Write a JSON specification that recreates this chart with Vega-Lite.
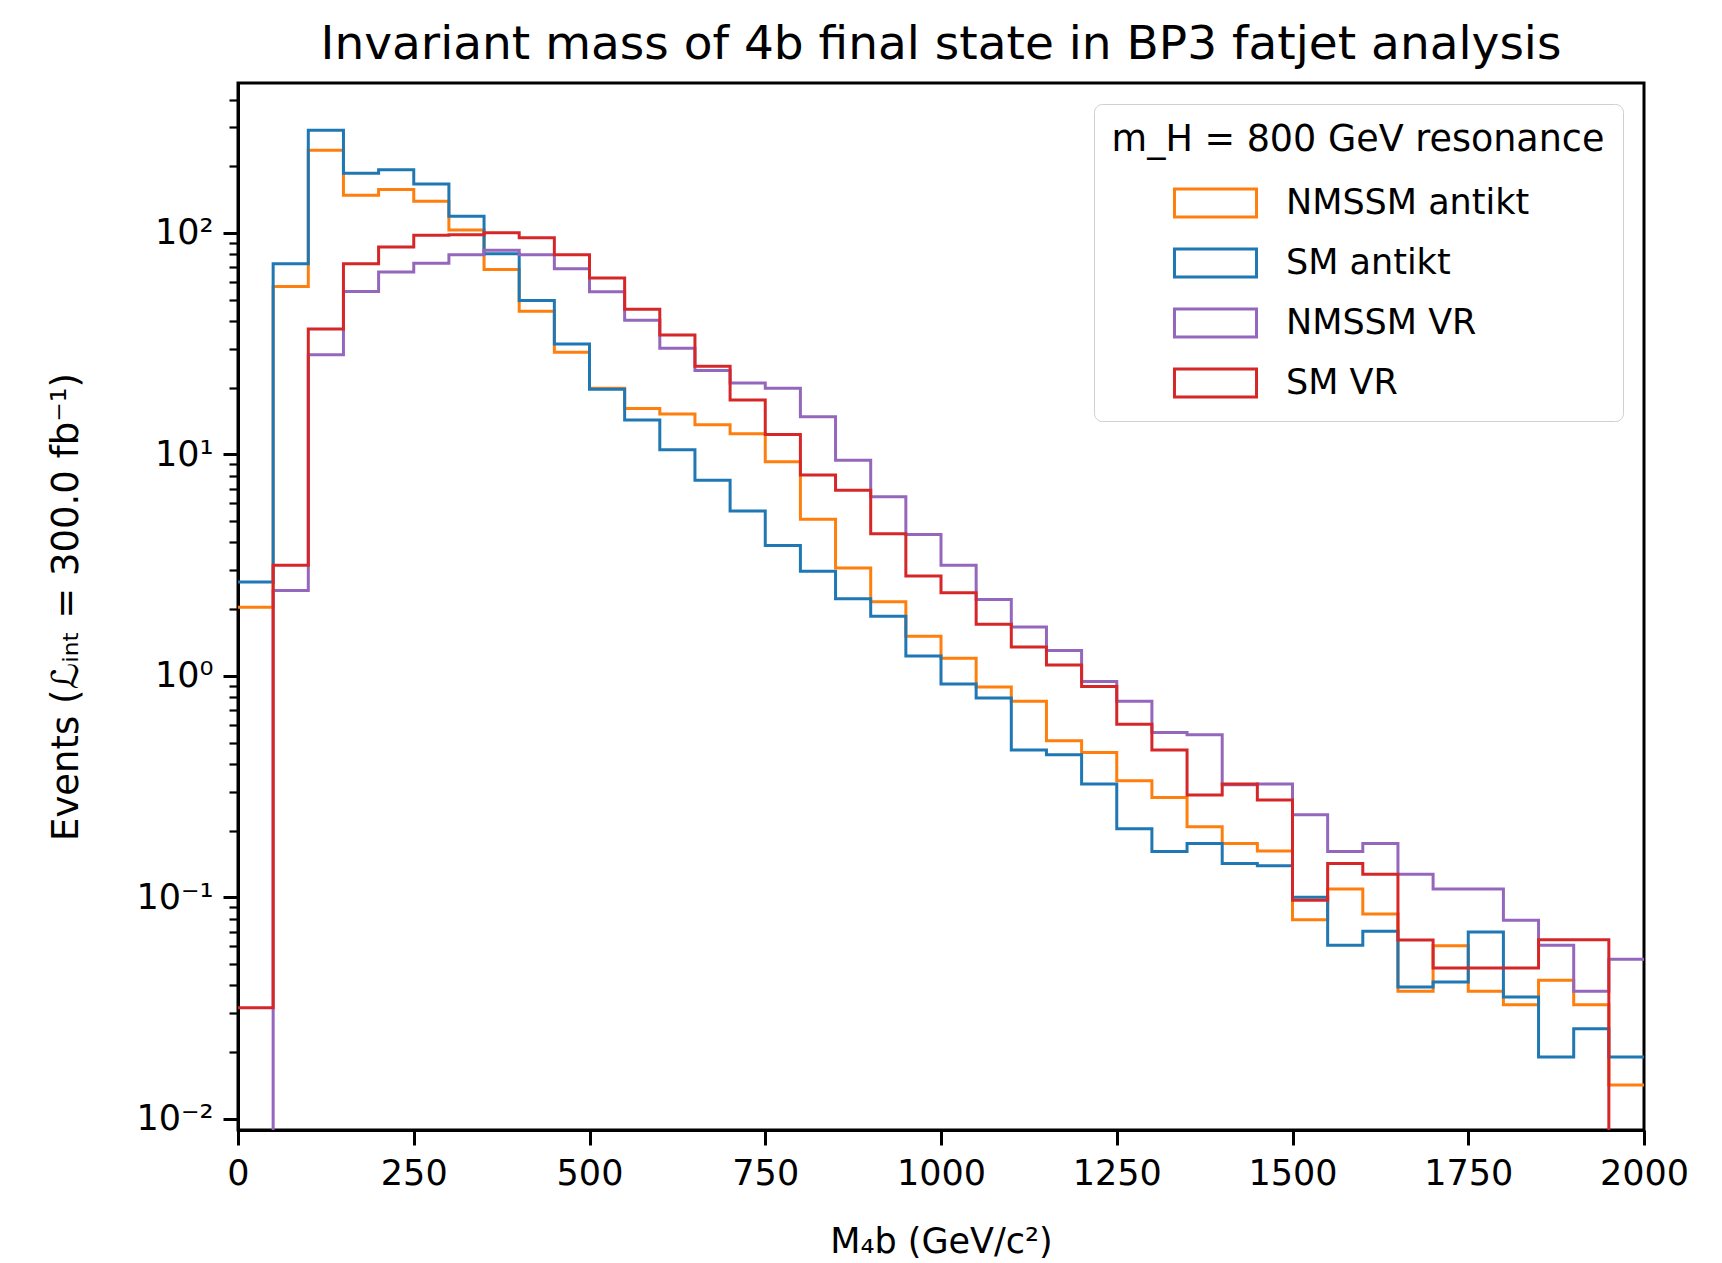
{
  "$schema": "https://vega.github.io/schema/vega-lite/v6.json",
  "width": 1406,
  "height": 1047,
  "autosize": "none",
  "padding": {"left": 238, "top": 83, "right": 78, "bottom": 133},
  "background": "white",
  "config": {
    "font": "DejaVu Sans",
    "view": {"stroke": "black", "strokeWidth": 3},
    "axis": {"domainColor": "black", "domainWidth": 3, "tickColor": "black", "labelColor": "black", "titleColor": "black", "labelFont": "DejaVu Sans", "titleFont": "DejaVu Sans", "labelFontSize": 35, "titleFontSize": 35, "titleFontWeight": "normal", "grid": false}
  },
  "title": {"text": "Invariant mass of 4b final state in BP3 fatjet analysis", "fontSize": 47, "fontWeight": "normal", "font": "DejaVu Sans", "color": "black", "anchor": "middle", "offset": 14},
  "datasets": {
    "hist": [
      {"s":"NMSSM antikt","x0":0,"x1":50,"v":2.04},{"s":"NMSSM antikt","x0":50,"x1":100,"v":57.3},{"s":"NMSSM antikt","x0":100,"x1":150,"v":236},{"s":"NMSSM antikt","x0":150,"x1":200,"v":148},{"s":"NMSSM antikt","x0":200,"x1":250,"v":157},{"s":"NMSSM antikt","x0":250,"x1":300,"v":139},{"s":"NMSSM antikt","x0":300,"x1":350,"v":103},{"s":"NMSSM antikt","x0":350,"x1":400,"v":68.4},{"s":"NMSSM antikt","x0":400,"x1":450,"v":44.3},{"s":"NMSSM antikt","x0":450,"x1":500,"v":28.9},
      {"s":"NMSSM antikt","x0":500,"x1":550,"v":19.9},{"s":"NMSSM antikt","x0":550,"x1":600,"v":16.1},{"s":"NMSSM antikt","x0":600,"x1":650,"v":15.2},{"s":"NMSSM antikt","x0":650,"x1":700,"v":13.6},{"s":"NMSSM antikt","x0":700,"x1":750,"v":12.4},{"s":"NMSSM antikt","x0":750,"x1":800,"v":9.27},{"s":"NMSSM antikt","x0":800,"x1":850,"v":5.09},{"s":"NMSSM antikt","x0":850,"x1":900,"v":3.07},{"s":"NMSSM antikt","x0":900,"x1":950,"v":2.16},{"s":"NMSSM antikt","x0":950,"x1":1000,"v":1.51},
      {"s":"NMSSM antikt","x0":1000,"x1":1050,"v":1.2},{"s":"NMSSM antikt","x0":1050,"x1":1100,"v":0.89},{"s":"NMSSM antikt","x0":1100,"x1":1150,"v":0.767},{"s":"NMSSM antikt","x0":1150,"x1":1200,"v":0.509},{"s":"NMSSM antikt","x0":1200,"x1":1250,"v":0.451},{"s":"NMSSM antikt","x0":1250,"x1":1300,"v":0.336},{"s":"NMSSM antikt","x0":1300,"x1":1350,"v":0.282},{"s":"NMSSM antikt","x0":1350,"x1":1400,"v":0.208},{"s":"NMSSM antikt","x0":1400,"x1":1450,"v":0.175},{"s":"NMSSM antikt","x0":1450,"x1":1500,"v":0.162},
      {"s":"NMSSM antikt","x0":1500,"x1":1550,"v":0.0792},{"s":"NMSSM antikt","x0":1550,"x1":1600,"v":0.109},{"s":"NMSSM antikt","x0":1600,"x1":1650,"v":0.084},{"s":"NMSSM antikt","x0":1650,"x1":1700,"v":0.0377},{"s":"NMSSM antikt","x0":1700,"x1":1750,"v":0.0604},{"s":"NMSSM antikt","x0":1750,"x1":1800,"v":0.0377},{"s":"NMSSM antikt","x0":1800,"x1":1850,"v":0.0327},{"s":"NMSSM antikt","x0":1850,"x1":1900,"v":0.0422},{"s":"NMSSM antikt","x0":1900,"x1":1950,"v":0.0327},{"s":"NMSSM antikt","x0":1950,"x1":2000,"v":0.0142},

      {"s":"SM antikt","x0":0,"x1":50,"v":2.65},{"s":"SM antikt","x0":50,"x1":100,"v":72.6},{"s":"SM antikt","x0":100,"x1":150,"v":291},{"s":"SM antikt","x0":150,"x1":200,"v":186},{"s":"SM antikt","x0":200,"x1":250,"v":193},{"s":"SM antikt","x0":250,"x1":300,"v":166},{"s":"SM antikt","x0":300,"x1":350,"v":119},{"s":"SM antikt","x0":350,"x1":400,"v":80.5},{"s":"SM antikt","x0":400,"x1":450,"v":49.5},{"s":"SM antikt","x0":450,"x1":500,"v":31.5},
      {"s":"SM antikt","x0":500,"x1":550,"v":19.7},{"s":"SM antikt","x0":550,"x1":600,"v":14.3},{"s":"SM antikt","x0":600,"x1":650,"v":10.5},{"s":"SM antikt","x0":650,"x1":700,"v":7.64},{"s":"SM antikt","x0":700,"x1":750,"v":5.55},{"s":"SM antikt","x0":750,"x1":800,"v":3.88},{"s":"SM antikt","x0":800,"x1":850,"v":2.97},{"s":"SM antikt","x0":850,"x1":900,"v":2.23},{"s":"SM antikt","x0":900,"x1":950,"v":1.86},{"s":"SM antikt","x0":950,"x1":1000,"v":1.23},
      {"s":"SM antikt","x0":1000,"x1":1050,"v":0.918},{"s":"SM antikt","x0":1050,"x1":1100,"v":0.794},{"s":"SM antikt","x0":1100,"x1":1150,"v":0.463},{"s":"SM antikt","x0":1150,"x1":1200,"v":0.44},{"s":"SM antikt","x0":1200,"x1":1250,"v":0.325},{"s":"SM antikt","x0":1250,"x1":1300,"v":0.204},{"s":"SM antikt","x0":1300,"x1":1350,"v":0.161},{"s":"SM antikt","x0":1350,"x1":1400,"v":0.175},{"s":"SM antikt","x0":1400,"x1":1450,"v":0.142},{"s":"SM antikt","x0":1450,"x1":1500,"v":0.139},
      {"s":"SM antikt","x0":1500,"x1":1550,"v":0.1},{"s":"SM antikt","x0":1550,"x1":1600,"v":0.0608},{"s":"SM antikt","x0":1600,"x1":1650,"v":0.0703},{"s":"SM antikt","x0":1650,"x1":1700,"v":0.0394},{"s":"SM antikt","x0":1700,"x1":1750,"v":0.0415},{"s":"SM antikt","x0":1750,"x1":1800,"v":0.0698},{"s":"SM antikt","x0":1800,"x1":1850,"v":0.0355},{"s":"SM antikt","x0":1850,"x1":1900,"v":0.019},{"s":"SM antikt","x0":1900,"x1":1950,"v":0.0255},{"s":"SM antikt","x0":1950,"x1":2000,"v":0.019},

      {"s":"NMSSM VR","x0":0,"x1":50,"v":0.001},{"s":"NMSSM VR","x0":50,"x1":100,"v":2.43},{"s":"NMSSM VR","x0":100,"x1":150,"v":28.2},{"s":"NMSSM VR","x0":150,"x1":200,"v":54.4},{"s":"NMSSM VR","x0":200,"x1":250,"v":66.5},{"s":"NMSSM VR","x0":250,"x1":300,"v":73},{"s":"NMSSM VR","x0":300,"x1":350,"v":79.7},{"s":"NMSSM VR","x0":350,"x1":400,"v":83.4},{"s":"NMSSM VR","x0":400,"x1":450,"v":79.7},{"s":"NMSSM VR","x0":450,"x1":500,"v":68.9},
      {"s":"NMSSM VR","x0":500,"x1":550,"v":54.2},{"s":"NMSSM VR","x0":550,"x1":600,"v":40.3},{"s":"NMSSM VR","x0":600,"x1":650,"v":30.1},{"s":"NMSSM VR","x0":650,"x1":700,"v":23.9},{"s":"NMSSM VR","x0":700,"x1":750,"v":21},{"s":"NMSSM VR","x0":750,"x1":800,"v":19.9},{"s":"NMSSM VR","x0":800,"x1":850,"v":14.8},{"s":"NMSSM VR","x0":850,"x1":900,"v":9.41},{"s":"NMSSM VR","x0":900,"x1":950,"v":6.43},{"s":"NMSSM VR","x0":950,"x1":1000,"v":4.35},
      {"s":"NMSSM VR","x0":1000,"x1":1050,"v":3.16},{"s":"NMSSM VR","x0":1050,"x1":1100,"v":2.21},{"s":"NMSSM VR","x0":1100,"x1":1150,"v":1.66},{"s":"NMSSM VR","x0":1150,"x1":1200,"v":1.3},{"s":"NMSSM VR","x0":1200,"x1":1250,"v":0.944},{"s":"NMSSM VR","x0":1250,"x1":1300,"v":0.767},{"s":"NMSSM VR","x0":1300,"x1":1350,"v":0.555},{"s":"NMSSM VR","x0":1350,"x1":1400,"v":0.542},{"s":"NMSSM VR","x0":1400,"x1":1450,"v":0.322},{"s":"NMSSM VR","x0":1450,"x1":1500,"v":0.325},
      {"s":"NMSSM VR","x0":1500,"x1":1550,"v":0.236},{"s":"NMSSM VR","x0":1550,"x1":1600,"v":0.161},{"s":"NMSSM VR","x0":1600,"x1":1650,"v":0.175},{"s":"NMSSM VR","x0":1650,"x1":1700,"v":0.127},{"s":"NMSSM VR","x0":1700,"x1":1750,"v":0.109},{"s":"NMSSM VR","x0":1750,"x1":1800,"v":0.109},{"s":"NMSSM VR","x0":1800,"x1":1850,"v":0.0788},{"s":"NMSSM VR","x0":1850,"x1":1900,"v":0.0608},{"s":"NMSSM VR","x0":1900,"x1":1950,"v":0.0377},{"s":"NMSSM VR","x0":1950,"x1":2000,"v":0.0525},

      {"s":"SM VR","x0":0,"x1":50,"v":0.0317},{"s":"SM VR","x0":50,"x1":100,"v":3.16},{"s":"SM VR","x0":100,"x1":150,"v":36.8},{"s":"SM VR","x0":150,"x1":200,"v":72.6},{"s":"SM VR","x0":200,"x1":250,"v":86.3},{"s":"SM VR","x0":250,"x1":300,"v":97.5},{"s":"SM VR","x0":300,"x1":350,"v":98},{"s":"SM VR","x0":350,"x1":400,"v":100},{"s":"SM VR","x0":400,"x1":450,"v":95},{"s":"SM VR","x0":450,"x1":500,"v":79.7},
      {"s":"SM VR","x0":500,"x1":550,"v":62.6},{"s":"SM VR","x0":550,"x1":600,"v":45.2},{"s":"SM VR","x0":600,"x1":650,"v":34.6},{"s":"SM VR","x0":650,"x1":700,"v":25},{"s":"SM VR","x0":700,"x1":750,"v":17.6},{"s":"SM VR","x0":750,"x1":800,"v":12.3},{"s":"SM VR","x0":800,"x1":850,"v":8.07},{"s":"SM VR","x0":850,"x1":900,"v":6.89},{"s":"SM VR","x0":900,"x1":950,"v":4.38},{"s":"SM VR","x0":950,"x1":1000,"v":2.82},
      {"s":"SM VR","x0":1000,"x1":1050,"v":2.37},{"s":"SM VR","x0":1050,"x1":1100,"v":1.71},{"s":"SM VR","x0":1100,"x1":1150,"v":1.35},{"s":"SM VR","x0":1150,"x1":1200,"v":1.12},{"s":"SM VR","x0":1200,"x1":1250,"v":0.896},{"s":"SM VR","x0":1250,"x1":1300,"v":0.605},{"s":"SM VR","x0":1300,"x1":1350,"v":0.463},{"s":"SM VR","x0":1350,"x1":1400,"v":0.29},{"s":"SM VR","x0":1400,"x1":1450,"v":0.325},{"s":"SM VR","x0":1450,"x1":1500,"v":0.275},
      {"s":"SM VR","x0":1500,"x1":1550,"v":0.097},{"s":"SM VR","x0":1550,"x1":1600,"v":0.142},{"s":"SM VR","x0":1600,"x1":1650,"v":0.127},{"s":"SM VR","x0":1650,"x1":1700,"v":0.0642},{"s":"SM VR","x0":1700,"x1":1750,"v":0.048},{"s":"SM VR","x0":1750,"x1":1800,"v":0.048},{"s":"SM VR","x0":1800,"x1":1850,"v":0.048},{"s":"SM VR","x0":1850,"x1":1900,"v":0.0644},{"s":"SM VR","x0":1900,"x1":1950,"v":0.0644},{"s":"SM VR","x0":1950,"x1":2000,"v":0.001}
    ]
  },
  "data": {"name": "hist"},
  "transform": [{"fold": ["x0", "x1"], "as": ["edge", "x"]}],
  "mark": {"type": "line", "clip": true, "strokeWidth": 3, "interpolate": "linear"},
  "encoding": {
    "x": {
      "field": "x", "type": "quantitative",
      "scale": {"domain": [0, 2000], "nice": false, "zero": false},
      "axis": {"title": "M₄b (GeV/c²)", "values": [0, 250, 500, 750, 1000, 1250, 1500, 1750, 2000], "format": "d", "tickSize": 15, "tickWidth": 3, "labelPadding": 11, "titlePadding": 33, "labelFlush": false, "labelOverlap": false}
    },
    "y": {
      "field": "v", "type": "quantitative",
      "scale": {"type": "log", "domain": [0.0089, 475], "nice": false},
      "axis": {
        "title": "Events (ℒᵢₙₜ = 300.0 fb⁻¹)",
        "titleFontSize": 37,
        "values": [0.01, 0.02, 0.03, 0.04, 0.05, 0.06, 0.07, 0.08, 0.09, 0.1, 0.2, 0.3, 0.4, 0.5, 0.6, 0.7, 0.8, 0.9, 1, 2, 3, 4, 5, 6, 7, 8, 9, 10, 20, 30, 40, 50, 60, 70, 80, 90, 100, 200, 300, 400],
        "labelExpr": "datum.value == 100 ? '10²' : datum.value == 10 ? '10¹' : datum.value == 1 ? '10⁰' : datum.value == 0.1 ? '10⁻¹' : datum.value == 0.01 ? '10⁻²' : ''",
        "tickSize": {"condition": {"test": "indexof([0.01, 0.1, 1, 10, 100], datum.value) >= 0", "value": 15}, "value": 9},
        "tickWidth": {"condition": {"test": "indexof([0.01, 0.1, 1, 10, 100], datum.value) >= 0", "value": 3}, "value": 2.2},
        "labelPadding": 10, "titlePadding": 50, "labelOverlap": false, "labelFlush": false
      }
    },
    "color": {
      "field": "s", "type": "nominal",
      "scale": {"domain": ["NMSSM antikt", "SM antikt", "NMSSM VR", "SM VR"], "range": ["#ff7f0e", "#1f77b4", "#9467bd", "#d62728"]},
      "legend": {
        "orient": "top-right", "offset": 21,
        "title": "m_H = 800 GeV resonance",
        "titleFontSize": 36.5, "titleFontWeight": "normal", "titleFont": "DejaVu Sans", "titleColor": "black", "titleAnchor": "middle", "titlePadding": 27, "titleLimit": 1000,
        "labelFontSize": 35, "labelFont": "DejaVu Sans", "labelColor": "black", "labelOffset": 53, "labelLimit": 1000,
        "symbolType": "M-2.93,-1H2.93V1H-2.93Z", "symbolSize": 784, "symbolStrokeWidth": 3, "symbolFillColor": "transparent", "symbolOffset": 12,
        "fillColor": "rgba(255,255,255,0.85)", "strokeColor": "#d0d0d0", "cornerRadius": 8, "padding": 18, "rowPadding": 19
      }
    },
    "order": [{"field": "x0", "type": "quantitative"}, {"field": "edge", "type": "ordinal"}]
  }
}
